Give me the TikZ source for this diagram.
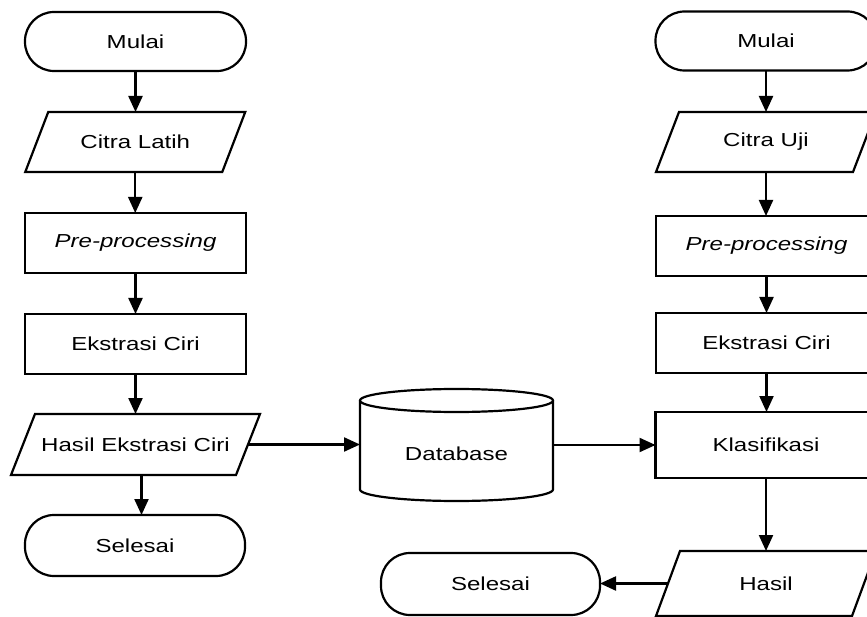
\documentclass[tikz,border=0pt]{standalone}
\usepackage{fontspec}
\setmainfont{Liberation Sans}
\usepackage{graphicx}
\usetikzlibrary{arrows.meta,calc}
\newcommand{\tx}[1]{\scalebox{1.28}[1]{#1}}
\newcommand{\para}[2]{\draw ([xshift=#2]#1.north west) -- ([xshift=#2]#1.north east) -- ([xshift=-#2]#1.south east) -- ([xshift=-#2]#1.south west) -- cycle;}
\begin{document}
\begin{tikzpicture}[x=1pt,y=1pt,
  every node/.style={inner sep=0pt, outer sep=0pt, font=\fontsize{18.8}{22}\selectfont},
  line width=2.2pt,
  term/.style={draw, rounded corners=29pt, minimum width=221pt, minimum height=59pt},
  proc/.style={draw, minimum width=221pt, minimum height=60pt},
  io/.style={minimum width=197pt, minimum height=60pt},
  flow/.style={-{Triangle[length=16pt,width=14pt]}, line width=2.2pt}]
\useasboundingbox (0,0) rectangle (867,-617);
\clip (0,0) rectangle (867,-617);
% left column
\node[term] (m1) at (135.5,-41.5) {\tx{Mulai}};
\node[io] (c1) at (135.25,-142) {\tx{Citra Latih}};
\para{c1}{11.5pt}
\node[proc] (pp1) at (135.5,-243) {\tx{\itshape Pre-processing}};
\node[proc] (e1) at (135.5,-344) {\tx{Ekstrasi Ciri}};
\node[io, minimum width=225pt, minimum height=61pt] (h1) at (135.5,-444.5) {\tx{Hasil Ekstrasi Ciri}};
\para{h1}{12pt}
\node[term, minimum height=61pt, minimum width=220pt] (s1) at (135,-545.5) {\tx{Selesai}};
% database
\node[minimum width=193pt, minimum height=112pt] (db) at (456.5,-445) {};
\node (dbt) at ([yshift=-9pt]db.center) {\tx{Database}};
\draw ([yshift=-11.5pt]db.north) ellipse [x radius=96.5pt, y radius=11.5pt];
\draw ([yshift=-11.5pt]db.north west) -- ([yshift=11.5pt]db.south west)
  arc[start angle=180, end angle=360, x radius=96.5pt, y radius=11.5pt]
  -- ([yshift=-11.5pt]db.north east);
% right column
\node[term] (m2) at (766,-41) {\tx{Mulai}};
\node[io] (c2) at (766,-142) {\tx{Citra Uji}};
\para{c2}{11.5pt}
\node[proc] (pp2) at (766.5,-246) {\tx{\itshape Pre-processing}};
\node[proc] (e2) at (766.5,-343) {\tx{Ekstrasi Ciri}};
\node[proc, minimum height=66pt] (k) at (766,-445) {\tx{Klasifikasi}};
\node[io, minimum width=196pt, minimum height=65pt] (h2) at (766,-583.5) {\tx{Hasil}};
\para{h2}{12pt}
\node[term, minimum width=219pt, minimum height=62pt] (s2) at (490.5,-584) {\tx{Selesai}};
% connectors
\draw[flow] (m1.south) -- (m1.south |- c1.north);
\draw[flow] (c1.south) -- (c1.south |- pp1.north);
\draw[flow] (pp1.south) -- (pp1.south |- e1.north);
\draw[flow] (e1.south) -- (e1.south |- h1.north);
\draw[flow] ([xshift=6pt]h1.south) -- ([xshift=6pt]h1.south |- s1.north);
\draw[flow] (h1.east) -- (h1.east -| db.west);
\draw[flow] (db.east) -- (db.east -| k.west);
\draw[flow] (m2.south) -- (m2.south |- c2.north);
\draw[flow] (c2.south) -- (c2.south |- pp2.north);
\draw[flow] (pp2.south) -- (pp2.south |- e2.north);
\draw[flow] (e2.south) -- (e2.south |- k.north);
\draw[flow] (k.south) -- (k.south |- h2.north);
\draw[flow] (h2.west) -- (h2.west -| s2.east);
\end{tikzpicture}
\end{document}
